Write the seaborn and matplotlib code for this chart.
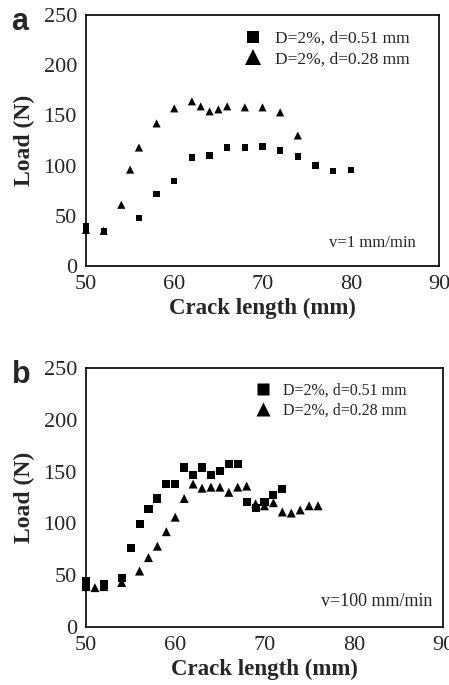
import matplotlib
matplotlib.use("Agg")
import matplotlib.pyplot as plt
import pandas as pd
import seaborn as sns

LABEL_051 = "D=2%, d=0.51 mm"
LABEL_028 = "D=2%, d=0.28 mm"

# panel a, v = 1 mm/min
a_sq_x = [50, 50, 52, 56, 58, 60, 62, 64, 66, 68, 70, 72, 74, 76, 78, 80]
a_sq_y = [40, 36, 35, 48, 72, 85, 108, 110, 118, 118, 119, 115, 109, 100, 95, 96]
a_tri_x = [50, 52, 54, 55, 56, 58, 60, 62, 63, 64, 65, 66, 68, 70, 72, 74]
a_tri_y = [36, 35, 61, 96, 118, 142, 157, 164, 159, 154, 156, 159, 158, 158, 153, 130]

# panel b, v = 100 mm/min
b_sq_x = [50, 50, 52, 54, 55, 56, 57, 58, 59, 60, 61, 62, 63, 64, 65, 66, 67,
          68, 69, 70, 71, 72]
b_sq_y = [44, 40, 41, 47, 76, 99, 114, 124, 138, 138, 154, 147, 154, 147, 151,
          157, 157, 121, 115, 121, 127, 133]
b_tri_x = [50, 51, 52, 54, 56, 57, 58, 59, 60, 61, 62, 63, 64, 65, 66, 67, 68,
           69, 70, 71, 72, 73, 74, 75, 76]
b_tri_y = [39, 38, 39, 43, 54, 67, 78, 92, 106, 124, 138, 134, 135, 135, 130,
           135, 136, 119, 117, 120, 111, 110, 113, 117, 117]

X_TICKS = [50, 60, 70, 80, 90]
Y_TICKS = [0, 50, 100, 150, 200, 250]

SERIF = "Liberation Serif"


def make_frame(sq_x, sq_y, tri_x, tri_y):
    sq = pd.DataFrame({"x": sq_x, "y": sq_y, "series": LABEL_051})
    tri = pd.DataFrame({"x": tri_x, "y": tri_y, "series": LABEL_028})
    return pd.concat([sq, tri], ignore_index=True)


def draw_panel(ax, df, letter, letter_pos, speed, sizes, mscale, legend_fs,
               legend_anchor, speed_fs, speed_pos):
    sns.scatterplot(
        data=df, x="x", y="y", style="series", size="series",
        markers={LABEL_051: "s", LABEL_028: "^"},
        sizes={LABEL_051: sizes[0], LABEL_028: sizes[1]},
        color="black", edgecolor="none", ax=ax, clip_on=False, zorder=3,
    )
    ax.set_xlim(50, 90)
    ax.set_ylim(0, 250)
    ax.set_xticks(X_TICKS)
    ax.set_yticks(Y_TICKS)
    ax.tick_params(direction="out", length=4.5, width=1.1, labelsize=16,
                   top=False, right=False, pad=2)
    for lab in ax.get_xticklabels() + ax.get_yticklabels():
        lab.set_fontfamily(SERIF)
    for sp in ax.spines.values():
        sp.set_color("black")
        sp.set_linewidth(1.2)
    ax.set_xlabel("Crack length (mm)", fontsize=16.5, fontweight="bold",
                  family=SERIF, labelpad=3)
    ax.set_ylabel("Load (N)", fontsize=17, fontweight="bold", family=SERIF,
                  labelpad=6)
    ax.legend(
        loc="upper left", bbox_to_anchor=legend_anchor, frameon=False,
        markerscale=mscale, handletextpad=0.25, labelspacing=0.25,
        prop={"family": SERIF, "size": legend_fs}, title=None,
    )
    ax.text(speed_pos[0], speed_pos[1], speed, transform=ax.transAxes,
            ha="right", va="center", family=SERIF, fontsize=speed_fs)
    ax.text(letter_pos[0], letter_pos[1], letter, transform=ax.transAxes,
            ha="center", va="baseline", fontsize=22, fontweight="bold",
            family="Liberation Sans")


sns.set_theme(style="white")
plt.rcParams["font.family"] = [SERIF, "DejaVu Sans"]

fig = plt.figure(figsize=(4.49, 6.85), dpi=100)
ax_a = fig.add_axes([86 / 449, 1 - 266 / 685, 353 / 449, 251 / 685])
ax_b = fig.add_axes([86 / 449, 1 - 627 / 685, 357 / 449, 259 / 685])

draw_panel(ax_a, make_frame(a_sq_x, a_sq_y, a_tri_x, a_tri_y), "a",
           (-0.188, 0.94), "v=1 mm/min", (20, 34), 1.9, 12.5, (0.38, 1.0), 12,
           (0.935, 0.092))
draw_panel(ax_b, make_frame(b_sq_x, b_sq_y, b_tri_x, b_tri_y), "b",
           (-0.181, 0.942), "v=100 mm/min", (34, 42), 1.6, 11.5, (0.41, 1.0), 13,
           (0.969, 0.097))

fig.savefig("out.png", dpi=100)
